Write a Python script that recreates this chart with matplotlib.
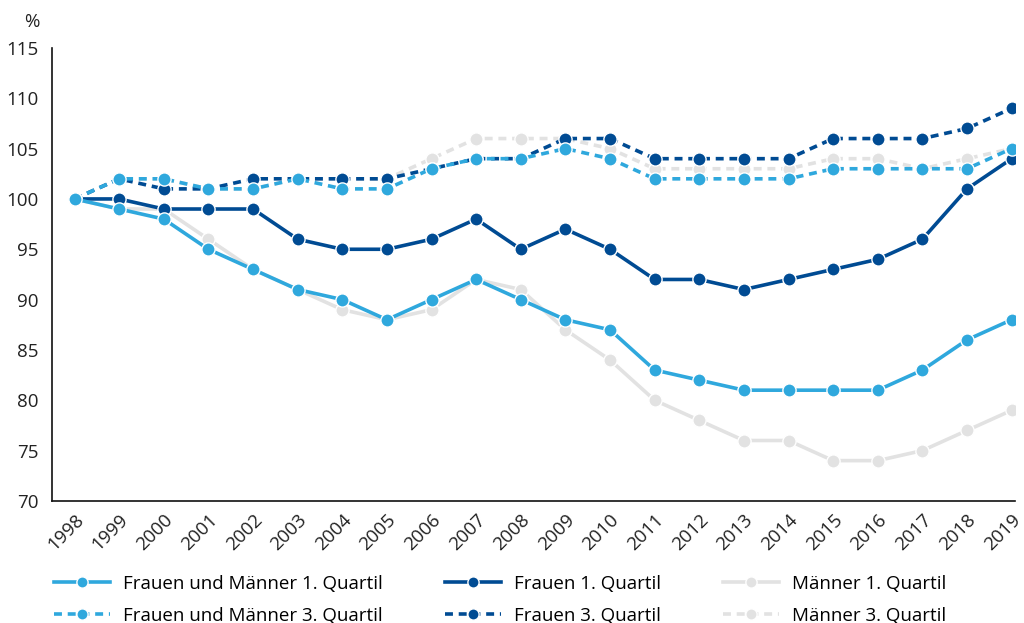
import matplotlib.pyplot as plt

years = list(range(1998, 2020))

fm_q1 = [100, 99, 98, 95, 93, 91, 90, 88, 90, 92, 90, 88, 87, 83, 82, 81, 81, 81, 81, 83, 86, 88]
f_q1 = [100, 100, 99, 99, 99, 96, 95, 95, 96, 98, 95, 97, 95, 92, 92, 91, 92, 93, 94, 96, 101, 104]
m_q1 = [100, 99, 99, 96, 93, 91, 89, 88, 89, 92, 91, 87, 84, 80, 78, 76, 76, 74, 74, 75, 77, 79]
fm_q3 = [100, 102, 102, 101, 101, 102, 101, 101, 103, 104, 104, 105, 104, 102, 102, 102, 102, 103, 103, 103, 103, 105]
f_q3 = [100, 102, 101, 101, 102, 102, 102, 102, 103, 104, 104, 106, 106, 104, 104, 104, 104, 106, 106, 106, 107, 109]
m_q3 = [100, 102, 102, 101, 101, 102, 102, 102, 104, 106, 106, 106, 105, 103, 103, 103, 103, 104, 104, 103, 104, 105]

labels = ["Frauen und Männer 1. Quartil", "Frauen 1. Quartil", "Männer 1. Quartil",
          "Frauen und Männer 3. Quartil", "Frauen 3. Quartil", "Männer 3. Quartil"]

light = "#2FA8DD"
dark = "#004B93"
grey = "#E2E2E2"

plt.rcParams['font.family'] = ['Open Sans', 'DejaVu Sans']

fig = plt.figure(figsize=(10.24, 6.23), dpi=100)
ax = fig.add_axes([0.051, 0.196, 0.94, 0.727])

dash = (0, (2.2, 1.6))
style = dict(lw=2.6, marker="o", ms=9.5, mec="white", mew=1.0)

# draw grey first, light blue on top
h_m3, = ax.plot(years, m_q3, color=grey, ls=dash, zorder=2, **style)
h_m1, = ax.plot(years, m_q1, color=grey, zorder=2, **style)
h_f3, = ax.plot(years, f_q3, color=dark, ls=dash, zorder=3, **style)
h_f1, = ax.plot(years, f_q1, color=dark, zorder=3, **style)
h_fm3, = ax.plot(years, fm_q3, color=light, ls=dash, zorder=4, **style)
h_fm1, = ax.plot(years, fm_q1, color=light, zorder=4, **style)

ax.set_xlim(1997.5, 2019.07)
ax.set_ylim(70, 115)
ax.set_yticks(range(70, 116, 5))
ax.set_xticks(years)
ax.set_xticklabels([str(y) for y in years], rotation=45, ha="right", rotation_mode="anchor")
ax.tick_params(axis="both", length=0, labelsize=13.5, colors="#222222")
ax.tick_params(axis="y", pad=10)
ax.tick_params(axis="x", pad=7)

for s in ["top", "right"]:
    ax.spines[s].set_visible(False)
for s in ["left", "bottom"]:
    ax.spines[s].set_linewidth(1.2)
    ax.spines[s].set_color("#111111")

fig.text(0.039, 0.965, "%", ha="right", va="center", fontsize=13.5, color="#222222")

handles = [h_fm1, h_fm3, h_f1, h_f3, h_m1, h_m3]
leg_labels = [labels[0], labels[3], labels[1], labels[4], labels[2], labels[5]]
fig.legend(handles, leg_labels, ncol=3, loc="lower left", bbox_to_anchor=(0.036, -0.03),
           frameon=False, fontsize=13.5, handlelength=3.0, handletextpad=0.7,
           columnspacing=3.3, labelspacing=0.75, markerscale=0.85)

fig.savefig("out.png", dpi=100)
